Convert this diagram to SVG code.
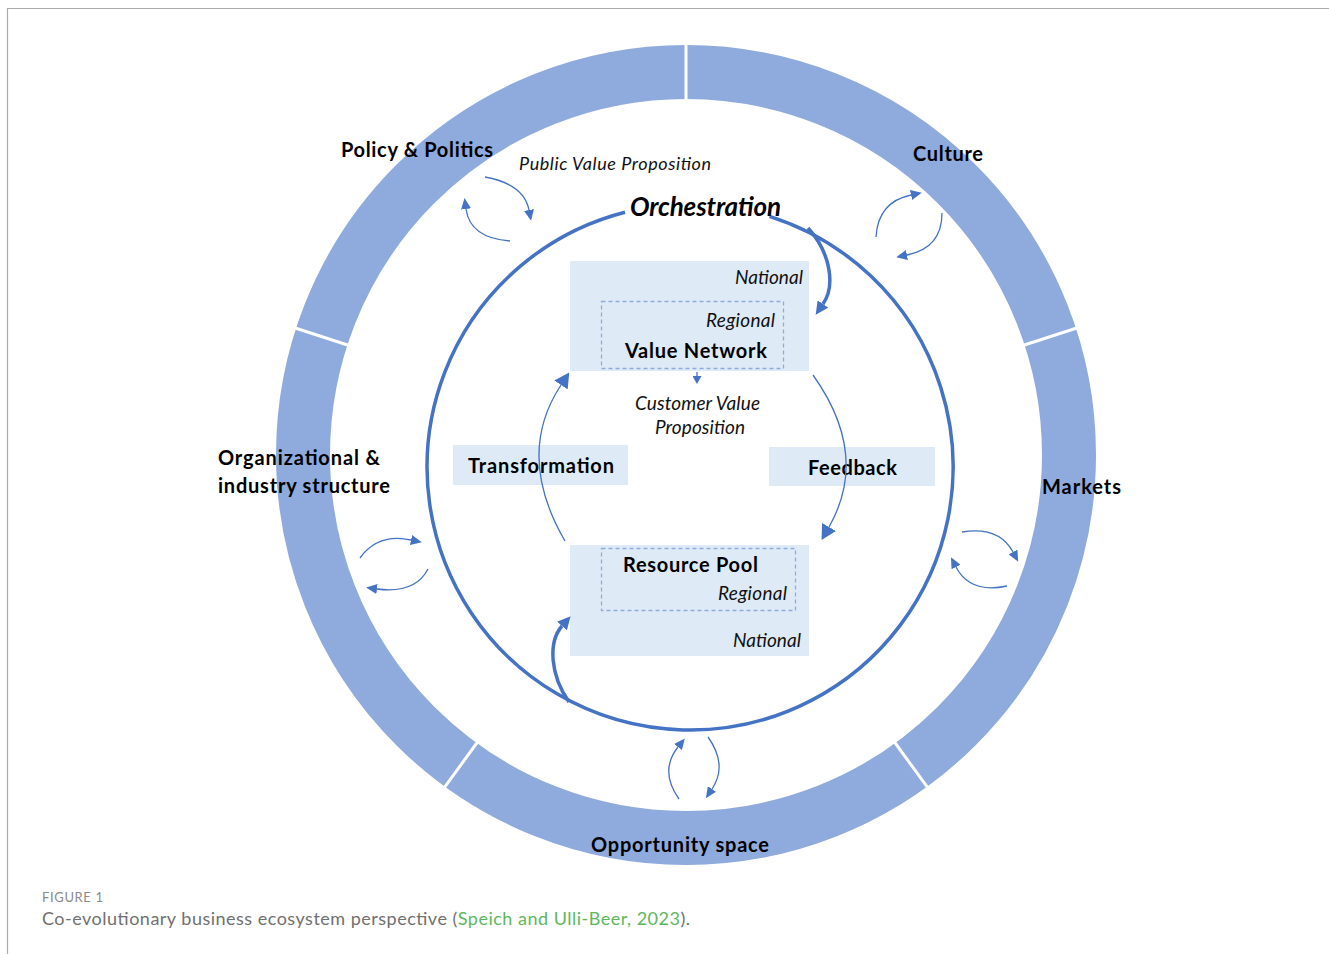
<svg xmlns="http://www.w3.org/2000/svg" width="1329" height="954" viewBox="0 0 1329 954">
<style>
  .lbl{font-family:Lato,"Liberation Sans",sans-serif;font-weight:700;font-size:20px;fill:#000}
  .it{font-family:Lato,"Liberation Sans",sans-serif;font-style:italic;font-size:19px;fill:#111}
  .box{fill:#DEEBF7}
  .dash{fill:none;stroke:#8FAADC;stroke-width:1.3;stroke-dasharray:4 3}
  .thin{fill:none;stroke:#4472C4;stroke-width:1.3}
  .thick{fill:none;stroke:#4472C4;stroke-width:3.5}
  .cap{font-family:Lato,"Liberation Sans",sans-serif}
</style>
<defs>
  <marker id="ah" markerUnits="userSpaceOnUse" markerWidth="11" markerHeight="10" refX="0" refY="5" orient="auto" viewBox="0 0 11 10"><path d="M0,0 L11,5 L0,10 z" fill="#4472C4"/></marker>
  <marker id="ahL" markerUnits="userSpaceOnUse" markerWidth="15" markerHeight="16" refX="0" refY="8" orient="auto" viewBox="0 0 15 16"><path d="M0,0 L15,8 L0,16 z" fill="#4472C4"/></marker>
  <marker id="ahT" markerUnits="userSpaceOnUse" markerWidth="13" markerHeight="13" refX="0" refY="6.5" orient="auto" viewBox="0 0 13 13"><path d="M0,0 L13,6.5 L0,13 z" fill="#4472C4"/></marker>
  <marker id="ahS" markerUnits="userSpaceOnUse" markerWidth="8" markerHeight="9" refX="0" refY="4.5" orient="auto" viewBox="0 0 8 9"><path d="M0,0 L8,4.5 L0,9 z" fill="#4472C4"/></marker>
</defs>
<rect width="1329" height="954" fill="#fff"/>
<path d="M7.5,954 V8.5 H1329" fill="none" stroke="#AAAAAA" stroke-width="1.2"/>

<g id="outer-ring">
  <circle cx="686" cy="455" r="383" fill="none" stroke="#8FAADC" stroke-width="54"/>
  <g stroke="#fff" stroke-width="3">
    <line x1="686" y1="40" x2="686" y2="104"/>
    <line x1="1080.7" y1="326.8" x2="1019.8" y2="346.5"/>
    <line x1="929.9" y1="790.7" x2="892.3" y2="739"/>
    <line x1="442.1" y1="790.7" x2="479.7" y2="739"/>
    <line x1="291.3" y1="326.8" x2="352.2" y2="346.5"/>
  </g>
</g>

<g id="ring-labels">
  <text class="lbl" x="341" y="157" textLength="152">Policy &amp; Politics</text>
  <text class="lbl" x="913" y="161" textLength="70">Culture</text>
  <text class="lbl" x="1042" y="494" textLength="79">Markets</text>
  <text class="lbl" x="218" y="465" textLength="162">Organizational &amp;</text>
  <text class="lbl" x="218" y="493" textLength="172">industry structure</text>
  <text class="lbl" x="591" y="852" textLength="178">Opportunity space</text>
  <text class="it" x="519" y="170" style="font-size:18px" textLength="192">Public Value Proposition</text>
</g>

<g id="orchestration">
  <path class="thick" d="M769.5,216.3 A263,263 0 1 1 625,212.2" stroke-width="3"/>
  <text class="lbl" x="630" y="216" style="font-size:26px;font-style:italic" textLength="151">Orchestration</text>
</g>

<g id="value-network">
  <rect class="box" x="570" y="261" width="239" height="110"/>
  <rect class="dash" x="601.5" y="301.5" width="182" height="67"/>
  <text class="it" x="735" y="284" textLength="68">National</text>
  <text class="it" x="706" y="327" textLength="69">Regional</text>
  <text class="lbl" x="625" y="358" textLength="142">Value Network</text>
</g>

<g id="customer-value">
  <text class="it" x="635" y="410" textLength="125">Customer Value</text>
  <text class="it" x="655" y="434" textLength="90">Proposition</text>
</g>

<g id="transformation">
  <rect class="box" x="453" y="445" width="175" height="40"/>
  <text class="lbl" x="468" y="473" textLength="146">Transformation</text>
</g>

<g id="feedback">
  <rect class="box" x="769" y="447" width="166" height="39"/>
  <text class="lbl" x="808" y="475" textLength="89">Feedback</text>
</g>

<g id="resource-pool">
  <rect class="box" x="570" y="545" width="239" height="111"/>
  <rect class="dash" x="601.5" y="548.5" width="194" height="62"/>
  <text class="lbl" x="623" y="572" textLength="135">Resource Pool</text>
  <text class="it" x="718" y="600" textLength="69">Regional</text>
  <text class="it" x="733" y="647" textLength="68">National</text>
</g>

<g id="connectors">
  <path class="thick" d="M808,228 C830,252 836,285 823,304" marker-end="url(#ahT)"/>
  <path class="thick" d="M569,702 C550,675 548,642 562,626" marker-end="url(#ahT)"/>
  <path class="thin" d="M565,541 Q515,455 561,385" stroke-width="1" marker-end="url(#ahL)"/>
  <path class="thin" d="M813,375 Q870,455 829,527" stroke-width="1" marker-end="url(#ahL)"/>
  <path class="thin" d="M697,372 V376" marker-end="url(#ahS)"/>
  <path class="thin" d="M485,177 Q524,184 529,210" marker-end="url(#ah)"/>
  <path class="thin" d="M510,241 Q470,238 466,209" marker-end="url(#ah)"/>
  <path class="thin" d="M876,237 Q878,202 911,195" marker-end="url(#ah)"/>
  <path class="thin" d="M942,213 Q942,248 907,255" marker-end="url(#ah)"/>
  <path class="thin" d="M360,558 Q378,533 411,540" marker-end="url(#ah)"/>
  <path class="thin" d="M428,569 Q415,594 377,589" marker-end="url(#ah)"/>
  <path class="thin" d="M962,532 Q999,526 1013,552" marker-end="url(#ah)"/>
  <path class="thin" d="M1007,586 Q970,594 956,567" marker-end="url(#ah)"/>
  <path class="thin" d="M679,799 Q659,771 678,747" marker-end="url(#ah)"/>
  <path class="thin" d="M708,737 Q728,765 712,789" marker-end="url(#ah)"/>
</g>

<g id="caption">
  <text class="cap" x="42" y="902" font-size="13" fill="#8A8A8A" textLength="61">FIGURE 1</text>
  <text class="cap" x="42" y="925" font-size="18" fill="#707070" textLength="648">Co-evolutionary business ecosystem perspective (<tspan fill="#5DB85C">Speich and Ulli-Beer, 2023</tspan>).</text>
</g>
</svg>
